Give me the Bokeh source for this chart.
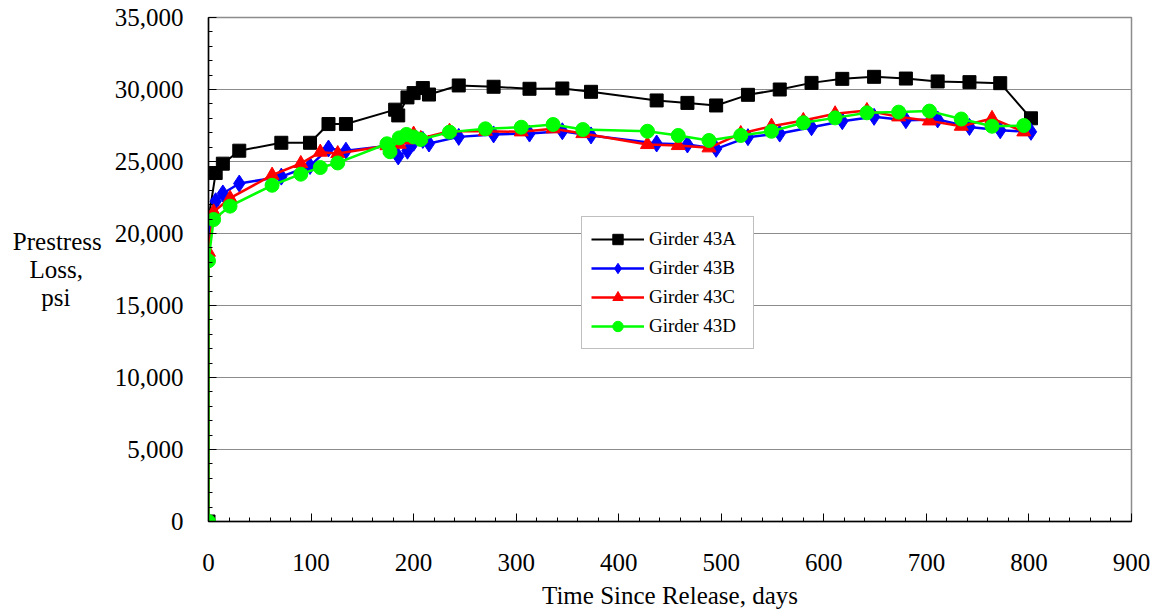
import math
from bokeh.plotting import figure
from bokeh.models import (Range1d, SingleIntervalTicker, NumeralTickFormatter,
                          Legend, LegendItem)
from bokeh.embed import file_html
from bokeh.resources import INLINE

# ---- data ----
days_ab = [0, 0, 7, 14, 30, 71, 99, 117, 134, 182, 185, 194, 200, 209, 215,
           244, 278, 313, 345, 373, 437, 467, 495, 526, 557, 588, 618, 649,
           680, 711, 742, 772, 802]
loss_43a = [0, 21000, 24200, 24850, 25750, 26300, 26300, 27600, 27600, 28600,
            28200, 29450, 29750, 30100, 29650, 30280, 30190, 30050, 30070,
            29840, 29240, 29070, 28890, 29630, 30000, 30460, 30740, 30880,
            30760, 30560, 30510, 30440, 28000]
loss_43b = [0, 20600, 22240, 22780, 23470, 23950, 24690, 25900, 25750, 26150,
            25350, 25750, 26300, 26500, 26250, 26710, 26880, 26940, 27100,
            26810, 26250, 26180, 25880, 26690, 26940, 27380, 27800, 28100,
            27870, 27920, 27400, 27170, 27060]
days_cd = [0, 0, 5, 21, 62, 90, 109, 126, 174, 177, 186, 193, 200, 207, 235,
           270, 305, 336, 365, 428, 458, 488, 519, 549, 580, 611, 642, 673,
           703, 734, 764, 795]
loss_43c = [0, 18700, 21500, 22450, 24050, 24860, 25650, 25550, 26100, 25800,
            26200, 26500, 26900, 26600, 27100, 27100, 27060, 27270, 26940,
            26180, 26110, 25950, 26940, 27450, 27850, 28310, 28540, 28100,
            27820, 27450, 27990, 27060]
loss_43d = [0, 18100, 20970, 21900, 23350, 24120, 24580, 24900, 26230, 25680,
            26640, 26880, 26710, 26530, 27040, 27270, 27380, 27570, 27220,
            27100, 26810, 26460, 26810, 27100, 27690, 28030, 28380, 28430,
            28500, 27950, 27450, 27500]
series_labels = ["Girder 43A", "Girder 43B", "Girder 43C", "Girder 43D"]
NB = "\u00a0"
# three-line horizontal y title; trailing no-break spaces centre the short lines
y_title = "Prestress\nLoss," + NB * 3 + "\npsi" + NB * 5
x_title = "Time Since Release, days"

FONT = "Liberation Serif"

p = figure(width=1165, height=611, output_backend="svg", toolbar_location=None,
           x_range=Range1d(0, 900), y_range=Range1d(0, 35000),
           min_border_left=208, min_border_right=34, min_border_top=17,
           min_border_bottom=90)
p.background_fill_color = "white"
p.border_fill_color = "white"
p.outline_line_color = "#8c8c8c"
p.outline_line_width = 1.5

p.xaxis.ticker = SingleIntervalTicker(interval=100, num_minor_ticks=5)
p.yaxis.ticker = SingleIntervalTicker(interval=5000, num_minor_ticks=5)
p.yaxis.formatter = NumeralTickFormatter(format="0,0")
p.xgrid.visible = False
p.ygrid.grid_line_color = "#8c8c8c"
p.ygrid.grid_line_width = 1

for ax in (p.xaxis[0], p.yaxis[0]):
    ax.axis_line_color = "black"
    ax.axis_line_width = 1.5
    ax.major_tick_in = 8
    ax.major_tick_out = 0
    ax.minor_tick_in = 4
    ax.minor_tick_out = 0
    ax.major_tick_line_color = "black"
    ax.minor_tick_line_color = "black"
    ax.major_label_text_font = FONT
    ax.major_label_text_font_size = "25px"
    ax.major_label_text_color = "black"
    ax.axis_label_text_font = FONT
    ax.axis_label_text_font_size = "25px"
    ax.axis_label_text_font_style = "normal"
    ax.axis_label_text_color = "black"

p.xaxis.axis_label = x_title
p.xaxis.major_label_standoff = 32
p.xaxis.axis_label_standoff = 8
p.yaxis.axis_label = y_title
p.yaxis.axis_label_orientation = "horizontal"
p.yaxis.axis_label_text_line_height = 1.05
p.yaxis.major_label_standoff = 25
p.yaxis.axis_label_standoff = 10

# ---- series ----
la = p.line(days_ab, loss_43a, line_color="black", line_width=2)
ma = p.scatter(days_ab, loss_43a, marker="square", size=13,
               fill_color="black", line_color="black")
lb = p.line(days_ab, loss_43b, line_color="#0000ff", line_width=2.5)
mb = p.scatter(days_ab, loss_43b, marker="diamond", size=17,
               fill_color="#0000ff", line_color="#0000ff")
lc = p.line(days_cd, loss_43c, line_color="#ff0000", line_width=2.5)
mc = p.scatter(days_cd, loss_43c, marker="triangle", size=14,
               fill_color="#ff0000", line_color="#ff0000")
ld = p.line(days_cd, loss_43d, line_color="#00ff00", line_width=2.5)
md = p.scatter(days_cd, loss_43d, marker="circle", size=14,
               fill_color="#00ff00", line_color="#00ff00")

legend = Legend(items=[
    LegendItem(label=series_labels[0], renderers=[la, ma]),
    LegendItem(label=series_labels[1], renderers=[lb, mb]),
    LegendItem(label=series_labels[2], renderers=[lc, mc]),
    LegendItem(label=series_labels[3], renderers=[ld, md]),
], location=(373, 172))
legend.label_text_font = FONT
legend.label_text_font_size = "19px"
legend.label_text_color = "black"
legend.glyph_width = 53
legend.glyph_height = 26
legend.label_height = 26
legend.label_width = 95
legend.label_standoff = 5
legend.spacing = 3
legend.padding = 9
legend.margin = 0
legend.border_line_color = "#808080"
legend.border_line_width = 1
legend.background_fill_color = "white"
legend.background_fill_alpha = 1.0
p.add_layout(legend, "center")

open("out.html", "w").write(file_html(p, INLINE))
